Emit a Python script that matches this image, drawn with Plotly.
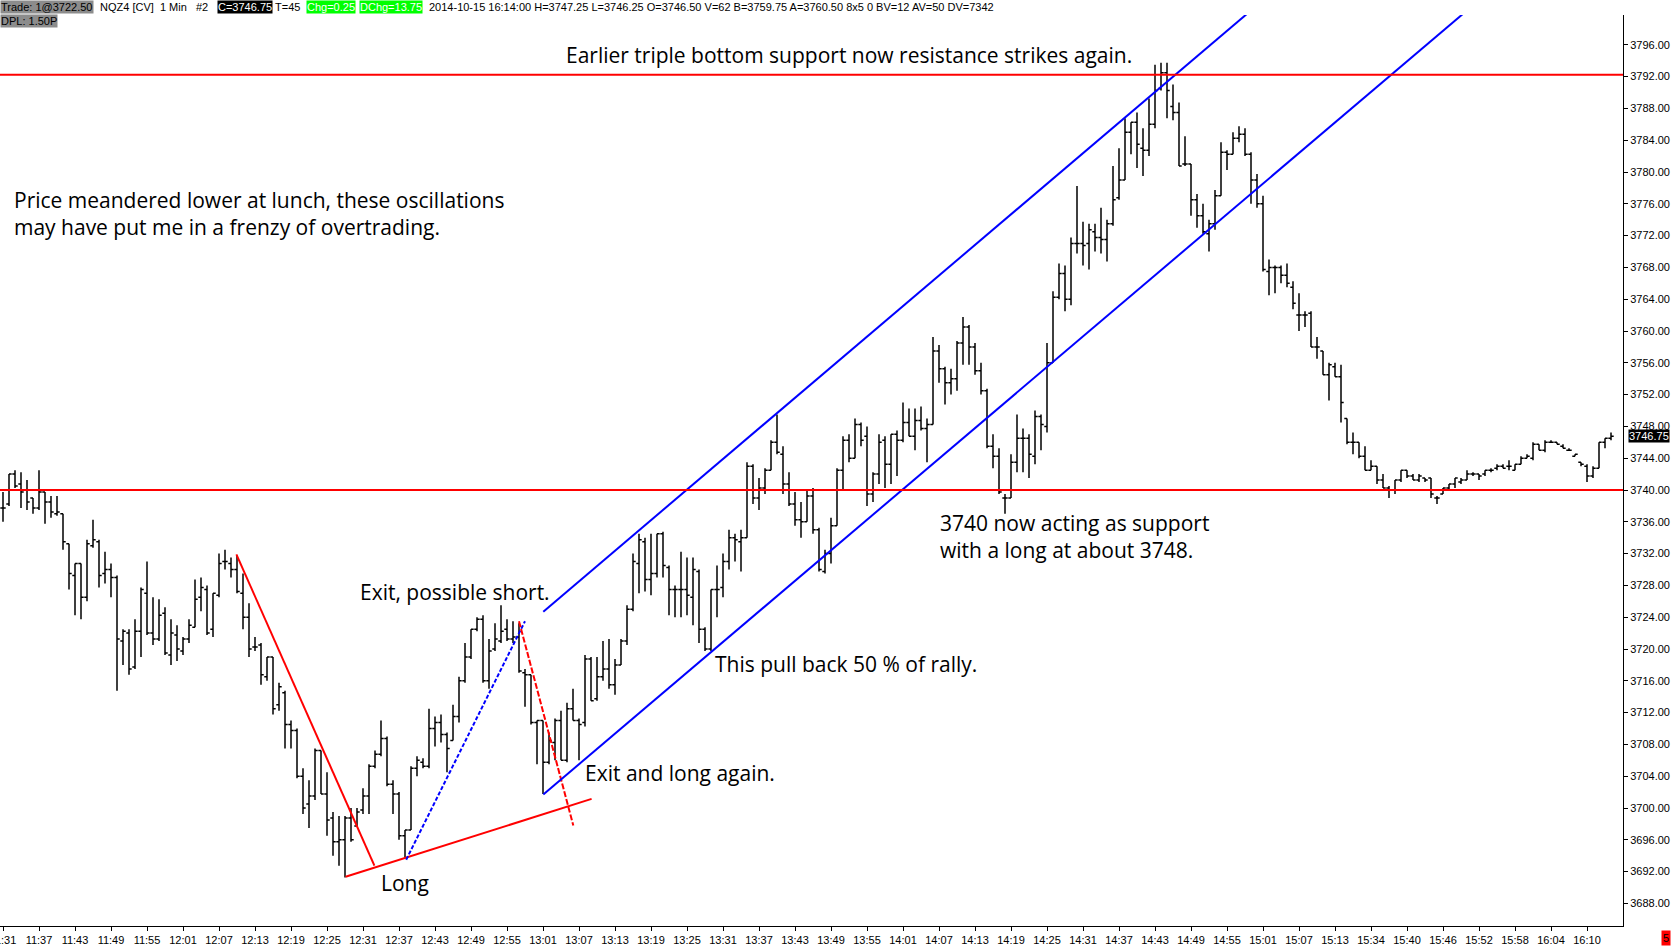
import plotly.graph_objects as go
import pandas as pd

# 1 minute bars, NQZ4, 2014-10-15 (CME break 15:15-15:30 has no bars)
bar_times = [t.strftime("%H:%M") for t in
             list(pd.date_range("2014-10-15 11:31", "2014-10-15 15:14", freq="min")) +
             list(pd.date_range("2014-10-15 15:30", "2014-10-15 16:14", freq="min"))]
bar_index = list(range(len(bar_times)))

opens = [
    3737.75, 3738.25, 3742, 3740.75, 3740, 3739, 3737.75, 3739.75, 3738.5, 3737,
    3737, 3733.25, 3729.25, 3730.75, 3726.5, 3733, 3733.5, 3729.5, 3730, 3729,
    3721, 3722, 3717.75, 3722.25, 3727, 3722, 3721.25, 3724.5, 3719.25, 3721.75,
    3719.75, 3721.25, 3722.75, 3726.5, 3727.5, 3722.5, 3726.75, 3731, 3730.75, 3730,
    3727, 3724, 3720.25, 3720.5, 3716.5, 3719, 3713, 3714.5, 3710.5, 3709.75,
    3704, 3700.5, 3701.5, 3707.25, 3701.75, 3698.75, 3695.75, 3696, 3698.75, 3697.75,
    3699.75, 3701.5, 3705.25, 3706.75, 3708.75, 3703, 3701.75, 3696.5, 3697.25, 3705,
    3705.75, 3705.25, 3710, 3710.75, 3709.25, 3708.5, 3711.5, 3716, 3719, 3722.5,
    3723.75, 3716, 3720, 3721, 3722.5, 3721.25, 3721.5, 3717, 3716.75, 3710.75,
    3711, 3705.75, 3708.25, 3711, 3706, 3712.5, 3711, 3710.75, 3718.75, 3713.75,
    3716.5, 3717.5, 3715.5, 3718, 3721, 3725, 3730.75, 3733.5, 3728.75, 3729.5,
    3734.5, 3730.25, 3727.5, 3727.5, 3727.5, 3726.5, 3729.75, 3722.5, 3720, 3727.5,
    3727.75, 3731, 3734, 3733.5, 3734, 3743, 3739, 3740.25, 3742.5, 3746,
    3744.5, 3740.75, 3738.25, 3736.25, 3736, 3739.25, 3735, 3729.75, 3732, 3735.5,
    3742.5, 3746.25, 3744, 3748.25, 3746.75, 3739.5, 3742, 3746.25, 3743.25, 3747,
    3746.25, 3748.5, 3746.75, 3748.75, 3747.75, 3748.25, 3757.5, 3755.25, 3753.5, 3754,
    3758.5, 3760.5, 3758, 3755, 3752.5, 3745.5, 3744.25, 3739, 3739, 3743.5,
    3746.5, 3746.5, 3744.25, 3749.25, 3748, 3756, 3764.25, 3767.25, 3764, 3771,
    3771, 3771, 3772.5, 3771.75, 3771.5, 3773.5, 3776.75, 3779, 3785, 3786.25,
    3783, 3782.75, 3786, 3790.5, 3792.5, 3788.25, 3787.5, 3781, 3781, 3776.5,
    3774.5, 3772.25, 3773.5, 3777, 3782.5, 3782.25, 3784.25, 3784.75, 3782.25, 3779,
    3776, 3767.5, 3768, 3768, 3767, 3765.5, 3762, 3762, 3762.25, 3758,
    3757.5, 3754.5, 3755.5, 3754.25, 3749, 3746, 3746, 3744.25, 3742.5, 3743,
    3741.25, 3740.25, 3740, 3741.25, 3742.5, 3741.75, 3741.25, 3741.5, 3741.5, 3739,
    3739.5, 3740.25, 3740.75, 3741, 3741.25, 3742, 3742, 3742, 3742.5, 3742.75,
    3743, 3743, 3742.5, 3743.25, 3744, 3744, 3745.75, 3745, 3746, 3746,
    3745.5, 3745, 3744.25, 3743.5, 3743, 3741.75, 3742.75, 3746, 3746.5,
]
highs = [
    3739.75, 3742, 3742.5, 3742.25, 3741.25, 3739, 3742.5, 3739.75, 3739.25, 3739.25,
    3737, 3733.25, 3730.75, 3730.75, 3733.75, 3736.25, 3733.75, 3732.25, 3730.75, 3729.25,
    3722.5, 3722.5, 3723.75, 3727.75, 3731, 3726.5, 3726.25, 3725.25, 3723.75, 3723,
    3721.5, 3723.75, 3728.75, 3729, 3728, 3727, 3732, 3732.5, 3731.5, 3731.75,
    3729.5, 3725.75, 3721.5, 3720.75, 3719, 3719, 3715.75, 3714.75, 3711, 3710,
    3705, 3703.5, 3707.5, 3707.25, 3704.5, 3699.5, 3699, 3699, 3700, 3700,
    3702.5, 3705.5, 3707.25, 3711, 3709, 3703.5, 3702, 3697.25, 3705.25, 3706.5,
    3706.25, 3712.5, 3711.5, 3711.75, 3709.5, 3713, 3716.5, 3720.75, 3722.5, 3724,
    3724.25, 3721.25, 3723.25, 3725.5, 3723.75, 3723.5, 3723.25, 3717.5, 3716.75, 3711,
    3711, 3709.5, 3711.25, 3712.25, 3713.25, 3715, 3711.25, 3719.25, 3719, 3719,
    3721, 3721.25, 3718.75, 3721.25, 3725.5, 3732, 3734.5, 3734, 3734.5, 3734.5,
    3734.75, 3730.5, 3728, 3732.25, 3731.5, 3731.5, 3730, 3722.75, 3727.5, 3730.5,
    3732, 3735, 3734.5, 3735, 3743.5, 3743.25, 3741.5, 3742.75, 3746.25, 3749.5,
    3745.5, 3742.25, 3739.75, 3738.5, 3740, 3740.25, 3735.25, 3732.5, 3736.5, 3742.75,
    3746.75, 3747, 3749, 3748.5, 3748, 3742.25, 3747, 3746.75, 3747, 3747.5,
    3751, 3750.25, 3750.25, 3750.5, 3749, 3759.25, 3758.25, 3755.5, 3755.25, 3758.75,
    3761.75, 3760.75, 3758.5, 3756, 3752.75, 3747, 3745.25, 3739.5, 3744.5, 3749.5,
    3747.75, 3747, 3750, 3749.5, 3758.5, 3765, 3768.5, 3768.25, 3771.75, 3778.25,
    3773.75, 3773.5, 3773.5, 3775.5, 3774, 3780.75, 3783, 3786.75, 3786.25, 3787.5,
    3785.5, 3789.25, 3793.5, 3793.75, 3793.75, 3791, 3788.75, 3784.5, 3781, 3777.25,
    3776, 3774, 3777.75, 3783.75, 3782.75, 3785, 3785.75, 3785.5, 3782.5, 3779.75,
    3777, 3769, 3768.25, 3768.25, 3768.5, 3766.25, 3764.75, 3762.5, 3762.5, 3759.25,
    3757.5, 3756, 3756, 3755.75, 3749, 3747.25, 3746, 3745.5, 3743.75, 3743,
    3742, 3740.5, 3741.25, 3742.5, 3742.5, 3742, 3742, 3741.5, 3741.5, 3739.25,
    3740.25, 3740.75, 3741.5, 3741.5, 3742.5, 3742.25, 3742, 3742.5, 3742.75, 3743.25,
    3743.25, 3743.75, 3743.25, 3744.25, 3744.5, 3746, 3745.75, 3746.25, 3746.25, 3746,
    3745.75, 3745.25, 3744.5, 3743.5, 3743.25, 3743, 3746, 3746.5, 3747.25,
]
lows = [
    3736, 3738, 3740.25, 3737.75, 3737.5, 3737, 3737.5, 3735.75, 3736.5, 3736.75,
    3732.5, 3727.5, 3724.25, 3723.75, 3726, 3732.75, 3727.75, 3728.25, 3726.5, 3714.75,
    3718, 3716.75, 3717.5, 3719, 3721.75, 3720.5, 3721, 3719.25, 3718, 3718.5,
    3719.25, 3720.75, 3722.75, 3724.75, 3721.75, 3721.5, 3726.5, 3730, 3729, 3727,
    3722.5, 3719, 3719.75, 3715.5, 3716, 3711.75, 3712.25, 3707.5, 3707.5, 3703.75,
    3699.25, 3697.5, 3701, 3701.75, 3696.5, 3694, 3692.75, 3691.25, 3695.75, 3697.75,
    3699.25, 3699.25, 3705, 3706.5, 3702.75, 3699.25, 3696, 3693.75, 3697.25, 3704,
    3705, 3705, 3707.75, 3708.25, 3704.5, 3708.5, 3710.75, 3715.75, 3718.75, 3722.25,
    3715.75, 3715, 3719.75, 3720.75, 3721, 3720.75, 3717, 3712.75, 3710.5, 3705.5,
    3701.75, 3705.5, 3706, 3706, 3705.75, 3711, 3706, 3710.25, 3713.5, 3713.5,
    3716, 3715, 3714.25, 3718, 3720.5, 3724.75, 3727, 3727.25, 3726.75, 3729,
    3729, 3724.25, 3724, 3724, 3724.25, 3723, 3720.75, 3719.75, 3719.75, 3724,
    3726.5, 3730, 3731, 3729.75, 3734, 3738.25, 3737.5, 3739.5, 3742.5, 3744.5,
    3739.5, 3738, 3735.5, 3734, 3736, 3734.5, 3729.75, 3729.5, 3730.75, 3735.5,
    3740, 3743.5, 3744, 3745.5, 3738, 3738.5, 3740.75, 3740.25, 3740.75, 3741.75,
    3746, 3746.75, 3745, 3747.5, 3743.5, 3748.25, 3753.5, 3750.75, 3752, 3752.5,
    3755.75, 3755.75, 3754.5, 3752, 3745.25, 3742.75, 3739.5, 3737, 3739, 3742.25,
    3742.25, 3741.5, 3743.25, 3745, 3747.25, 3756, 3764, 3762.5, 3763.25, 3769.75,
    3768.25, 3767.75, 3770, 3769.75, 3768.75, 3773.25, 3776.5, 3779, 3782.25, 3780.5,
    3779.5, 3782, 3785.5, 3790.25, 3786.75, 3786.5, 3780.75, 3780.75, 3774.5, 3773,
    3772.25, 3770, 3772.75, 3777, 3780.25, 3782.25, 3783.75, 3782, 3776, 3775.5,
    3767.5, 3764.5, 3764.75, 3766, 3765.5, 3762.75, 3760, 3760.5, 3758, 3756.5,
    3754.5, 3751.25, 3754.25, 3748.5, 3745.75, 3744.5, 3744, 3742.5, 3742.5, 3740.75,
    3740.25, 3739, 3739.5, 3741, 3741.5, 3741.25, 3741, 3741, 3739, 3738.25,
    3739.5, 3740, 3740.25, 3740.75, 3741.25, 3741.75, 3741.25, 3741.75, 3742.25, 3742.5,
    3742.75, 3742.5, 3742.5, 3743.25, 3744, 3743.75, 3745, 3744.75, 3746, 3745.75,
    3745.25, 3745, 3744.25, 3743, 3741, 3741.5, 3742.75, 3745.25, 3746.25,
]
closes = [
    3737.75, 3742, 3740.5, 3739.75, 3738.5, 3737.75, 3739.75, 3738.5, 3737.25, 3737.25,
    3733.5, 3729.5, 3730.75, 3726.5, 3733.25, 3733.75, 3729.25, 3730, 3729, 3721.25,
    3722.25, 3717.5, 3722.25, 3727.5, 3722, 3721.25, 3724.25, 3719.5, 3722, 3720,
    3721.25, 3723, 3726.25, 3727.75, 3722, 3727, 3730.75, 3731, 3730, 3727.25,
    3724, 3720, 3720.25, 3716.75, 3719, 3712.5, 3715.25, 3710.5, 3709.75, 3704,
    3700, 3701.5, 3707.25, 3701.75, 3698.5, 3695.75, 3696, 3698.75, 3696, 3699.5,
    3701.5, 3705.25, 3706.75, 3708.75, 3703, 3701.75, 3696.5, 3697.25, 3705, 3706,
    3705.25, 3710, 3710.75, 3709.25, 3707.5, 3711.5, 3716, 3719, 3722.5, 3723.75,
    3716, 3719.75, 3721.25, 3722.25, 3721.25, 3721.5, 3717.25, 3716.75, 3710.75, 3711,
    3705.75, 3708.5, 3711, 3706, 3712.5, 3711, 3710.5, 3718.75, 3713.5, 3716.5,
    3717.5, 3715.5, 3718, 3721, 3725, 3731, 3733.75, 3728.75, 3729.5, 3734.5,
    3730.5, 3727.5, 3727.5, 3727.5, 3726.75, 3730, 3722.5, 3720, 3727.5, 3727.5,
    3731, 3734, 3733.75, 3734, 3743, 3739, 3740.25, 3742.5, 3746, 3744.75,
    3740.75, 3738.25, 3736.25, 3736, 3739.25, 3735, 3730, 3732, 3735.5, 3742.5,
    3746.25, 3744, 3748.25, 3746.25, 3739.5, 3742, 3746, 3743.25, 3747, 3746.25,
    3748.5, 3746.75, 3748.75, 3747.75, 3748.25, 3757.5, 3755.25, 3753.5, 3754, 3758.5,
    3760.5, 3758, 3755, 3752.5, 3745.5, 3744.25, 3739.75, 3739, 3743.5, 3746.5,
    3746.5, 3744.5, 3749.25, 3748.25, 3756, 3764.25, 3767.25, 3764, 3771, 3771,
    3770.75, 3772.75, 3771.75, 3771.5, 3773.5, 3776.5, 3779, 3785, 3786.25, 3783.5,
    3782.75, 3786, 3790.25, 3792.5, 3790.25, 3787.5, 3780.75, 3781, 3776.5, 3774.5,
    3772.5, 3773.5, 3777, 3782.5, 3782.25, 3784.25, 3784.75, 3782.25, 3779, 3776,
    3767.75, 3768, 3768, 3767, 3766, 3763.5, 3762, 3762, 3758, 3758,
    3754.5, 3755.75, 3754.25, 3751, 3746, 3746, 3744.25, 3742.5, 3743, 3741.25,
    3740.25, 3740, 3741.25, 3742.5, 3741.75, 3741.25, 3741.75, 3741.25, 3739.5, 3739,
    3740.25, 3740.75, 3741.5, 3741.25, 3742, 3742, 3741.75, 3742.5, 3742.5, 3743,
    3742.75, 3743, 3743.25, 3744, 3744.25, 3745.75, 3745, 3746, 3746, 3745.75,
    3745.25, 3745, 3744.5, 3743.25, 3741.75, 3742.75, 3746, 3746.5, 3746.75,
]

# horizontal support / resistance levels
levels = [3792.25, 3740.0]

# drawn trend lines: (bar index pair, price pair, colour, dash)
trend_lines = [
    ([38.9, 61.9], [3731.9, 3692.75], "#ff0000", "solid"),
    ([57.1, 98.1], [3691.35, 3701.15], "#ff0000", "solid"),
    ([67.2, 87.0], [3693.5, 3723.5], "#0000ff", "4px,2px"),
    ([86.0, 95.05], [3723.5, 3697.8], "#ff0000", "6px,2px"),
    ([90.05, 243.5], [3701.7, 3800.0], "#0000ff", "solid"),
    ([90.05, 207.5], [3724.7, 3800.0], "#0000ff", "solid"),
]

# chart comments: (bar index, price, text, anchor)
comments = [
    (141.0, 3794.7, "Earlier triple bottom support now resistance strikes again.", "center"),
    (1.5, 3774.75, "Price meandered lower at lunch, these oscillations<br>may have put me in a frenzy of overtrading.", "left"),
    (59.2, 3727.2, "Exit, possible short.", "left"),
    (118.3, 3718.1, "This pull back 50 % of rally.", "left"),
    (96.6, 3704.4, "Exit and long again.", "left"),
    (62.6, 3690.6, "Long", "left"),
    (155.85, 3734.2, "3740 now acting as support<br>with a long at about 3748.", "left"),
]

# header strip: (left px, row, text, background, text colour)
header = [
    (0, 0, "Trade: 1@3722.50", "#8c8c8c", "#000000"),
    (99, 0, "NQZ4 [CV]  1 Min   #2", "rgba(0,0,0,0)", "#000000"),
    (217, 0, "C=3746.75", "#000000", "#ffffff"),
    (274, 0, "T=45", "rgba(0,0,0,0)", "#000000"),
    (306, 0, "Chg=0.25", "#00ff00", "#ffffff"),
    (359, 0, "DChg=13.75", "#00ff00", "#ffffff"),
    (428, 0, "2014-10-15 16:14:00 H=3747.25 L=3746.25 O=3746.50 V=62 B=3759.75 A=3760.50 8x5 0 BV=12 AV=50 DV=7342",
     "rgba(0,0,0,0)", "#000000"),
    (0, 1, "DPL: 1.50P", "#8c8c8c", "#000000"),
]

small_font = "Liberation Sans, Arial"
text_font = "Open Sans, Noto Sans, sans-serif"

fig = go.Figure()

fig.add_trace(go.Ohlc(
    x=bar_index, open=opens, high=highs, low=lows, close=closes,
    increasing=dict(line=dict(color="black", width=1.5)),
    decreasing=dict(line=dict(color="black", width=1.5)),
    tickwidth=0.45,
    showlegend=False,
    hoverinfo="skip",
))

for lv in levels:
    fig.add_hline(y=lv, line_color="#ff0000", line_width=2)

for xs, ys, col, dash in trend_lines:
    fig.add_trace(go.Scatter(
        x=xs, y=ys, mode="lines",
        line=dict(color=col, width=2, dash=dash),
        showlegend=False, hoverinfo="skip",
    ))

for cx, cy, txt, anchor in comments:
    fig.add_annotation(
        x=cx, y=cy, xref="x", yref="y", text=txt, showarrow=False,
        xanchor=anchor, yanchor="middle", align="left",
        font=dict(family=text_font, size=21, color="black"),
    )

for px, row, txt, bg, fg in header:
    fig.add_annotation(
        x=0, y=1, xref="paper", yref="paper", xshift=px, yshift=8 - 14 * row,
        text=txt, showarrow=False, xanchor="left", yanchor="middle",
        bgcolor=bg, borderpad=0,
        font=dict(family=small_font, size=11, color=fg),
    )

# last price marker on the price scale
fig.add_annotation(
    x=1, y=closes[-1], xref="paper", yref="y", xshift=5,
    text=f"{closes[-1]:.2f}", showarrow=False, xanchor="left", yanchor="middle",
    bgcolor="black", borderpad=0,
    font=dict(family=small_font, size=11, color="white"),
)
fig.add_annotation(
    x=1, y=0, xref="paper", yref="paper", xshift=43, yshift=-12,
    text="5", showarrow=False, xanchor="center", yanchor="middle",
    bgcolor="#ff0000", borderpad=1,
    font=dict(family=small_font, size=11, color="black"),
)

fig.update_layout(
    width=1672, height=947,
    margin=dict(l=0, r=49, t=15, b=21),
    paper_bgcolor="white", plot_bgcolor="white",
    showlegend=False,
    xaxis=dict(
        range=[-0.5, 270], rangeslider=dict(visible=False),
        tickmode="array", tickvals=bar_index[::6], ticktext=bar_times[::6],
        ticklabeloverflow="allow",
        showgrid=False, zeroline=False, showline=True, linecolor="black", linewidth=1,
        ticks="outside", ticklen=4, tickcolor="black",
        tickfont=dict(family=small_font, size=11, color="black"),
        automargin=False,
    ),
    yaxis=dict(
        side="right", range=[3685.16, 3799.75],
        tick0=3688, dtick=4, tickformat=".2f",
        showgrid=False, zeroline=False, showline=True, linecolor="black", linewidth=1,
        ticks="outside", ticklen=4, tickcolor="black",
        tickfont=dict(family=small_font, size=11, color="black"),
        automargin=False,
    ),
)

fig.write_html("out.html", config={"displayModeBar": False},
               post_script="document.body.style.margin='0';document.body.style.overflow='hidden';")
